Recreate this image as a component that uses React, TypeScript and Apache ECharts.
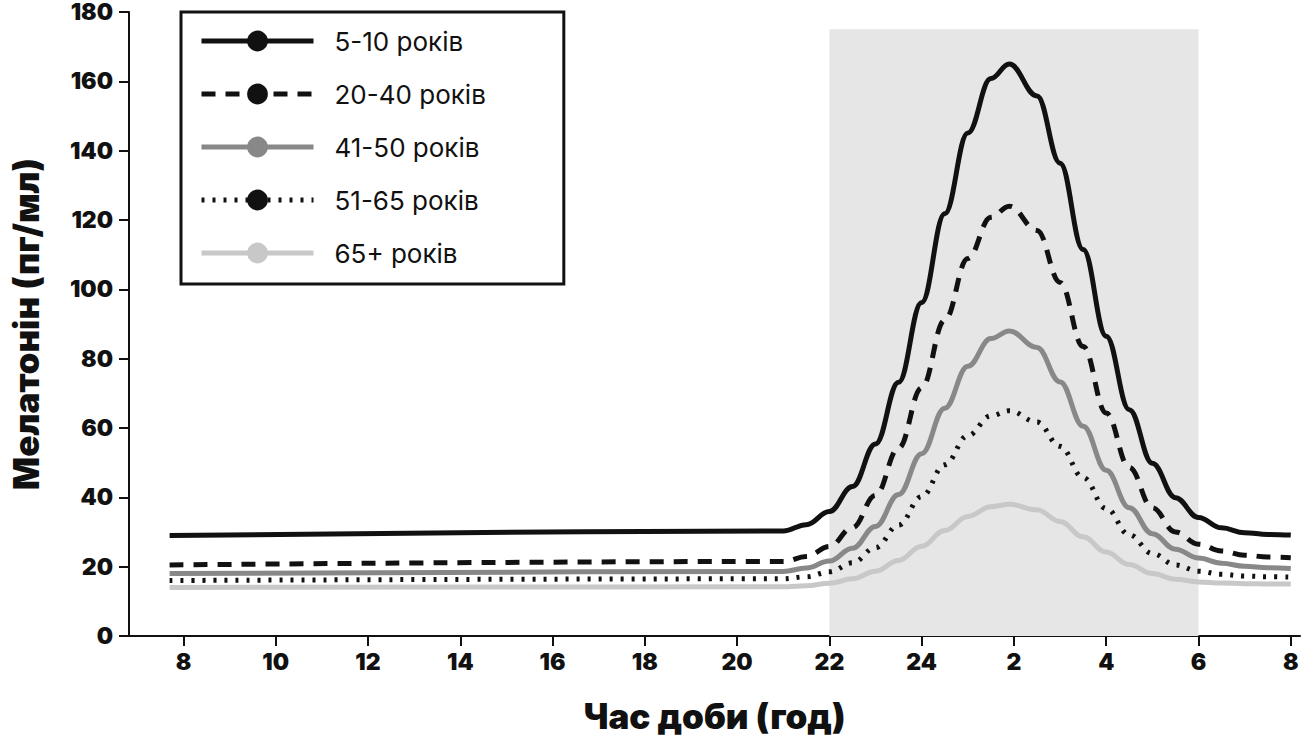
import { useEffect, useRef } from "react";
import * as echarts from "echarts";

const hours = [7.7, 21, 21.5, 22, 22.5, 23, 23.5, 24, 24.5, 25, 25.5, 25.9, 26.5, 27, 27.5, 28, 28.5, 29, 29.5, 30, 30.5, 31, 31.5, 32];
const age5to10 = [29, 30.3, 32.1, 35.9, 43.1, 55.4, 73.2, 96.2, 121.8, 145.1, 160.8, 165, 155.8, 136.4, 111.5, 86.5, 65.3, 49.8, 39.9, 34.2, 31.2, 29.8, 29.3, 29.1];
const age20to40 = [20.5, 21.5, 22.9, 25.8, 31.3, 40.6, 54.2, 71.6, 91.1, 108.9, 120.8, 124, 117, 102, 83.5, 64.3, 48.6, 37, 30, 26.5, 24.5, 23.3, 22.8, 22.6];
const age41to50 = [18, 18.6, 19.6, 21.6, 25.3, 31.6, 40.8, 52.6, 65.7, 77.8, 85.8, 88, 83.2, 73.3, 60.5, 47.8, 37, 29.5, 25, 22.5, 21, 20.1, 19.7, 19.5];
const age51to65 = [16, 16.5, 17.1, 18.5, 21.1, 25.5, 32, 40.2, 49.4, 57.8, 63.5, 65, 61.7, 54.7, 45.7, 36.8, 29.2, 23.8, 20.5, 18.7, 17.8, 17.3, 17.1, 17];
const age65plus = [14, 14.2, 14.5, 15.2, 16.5, 18.7, 21.8, 25.9, 30.4, 34.5, 37.3, 38, 36.4, 33, 28.6, 24.2, 20.6, 18, 16.4, 15.6, 15.3, 15.1, 15, 15];
const xTicks = [8, 10, 12, 14, 16, 18, 20, 22, 24, 26, 28, 30, 32];
const nightBand = [22, 30];

const font = "Inter";

export default function App() {
  const ref = useRef<HTMLDivElement>(null);

  useEffect(() => {
    if (!ref.current) return;
    const chart = echarts.init(ref.current, null, { renderer: "svg" });
    const mk = (name: string, vals: number[], color: string, type: any) => ({
      name,
      type: "line",
      smooth: 0.4,
      smoothMonotone: "x",
      symbol: "none",
      data: hours.map((h, i) => [h, vals[i]]),
      lineStyle: { color, width: 5, type },
      itemStyle: { color },
    });
    const s1: any = mk("5-10 років", age5to10, "#111", "solid");
    s1.markArea = {
      silent: true,
      itemStyle: { color: "#e6e6e6" },
      data: [[{ coord: [nightBand[0], 0] }, { coord: [nightBand[1], 175] }]],
    };
    chart.setOption({
      animation: false,
      grid: { left: 122, right: 3, top: 12, bottom: 103 },
      legend: {
        orient: "vertical",
        left: 181,
        top: 12,
        padding: [16, 78, 18, 18],
        itemGap: 27,
        itemWidth: 112,
        itemHeight: 26,
        borderColor: "#111",
        borderWidth: 3,
        backgroundColor: "#fff",
        lineStyle: { width: 5 },
        textStyle: { fontFamily: font, fontSize: 26, color: "#111", padding: [0, 0, 0, 16] },
        data: ["5-10 років", "20-40 років", "41-50 років", "51-65 років", "65+ років"],
      },
      xAxis: {
        type: "value",
        min: 6.82,
        max: 32.2,
        splitLine: { show: false },
        axisLine: { lineStyle: { color: "#111", width: 2 } },
        axisTick: { customValues: xTicks, length: 10, lineStyle: { color: "#111", width: 2 } },
        axisLabel: {
          customValues: xTicks,
          formatter: (v: number) => String(v > 24 ? v - 24 : v),
          fontFamily: font, fontWeight: 900, fontSize: 23, color: "#111", margin: 14,
        },
        name: "Час доби (год)",
        nameLocation: "middle",
        nameGap: 62,
        nameTextStyle: { fontFamily: font, fontWeight: 900, fontSize: 35, color: "#111" },
      },
      yAxis: {
        type: "value",
        min: 0,
        max: 180,
        interval: 20,
        splitLine: { show: false },
        axisLine: { show: true, lineStyle: { color: "#111", width: 2 } },
        axisTick: { show: true, length: 10, lineStyle: { color: "#111", width: 2 } },
        axisLabel: { fontFamily: font, fontWeight: 900, fontSize: 23, color: "#111", margin: 16 },
        name: "Мелатонін (пг/мл)",
        nameLocation: "middle",
        nameGap: 86,
        nameTextStyle: { fontFamily: font, fontWeight: 900, fontSize: 35, color: "#111" },
      },
      series: [
        s1,
        mk("20-40 років", age20to40, "#111", [14, 10]),
        mk("41-50 років", age41to50, "#888", "solid"),
        mk("51-65 років", age51to65, "#111", [3, 8]),
        mk("65+ років", age65plus, "#c8c8c8", "solid"),
      ],
    });
    return () => chart.dispose();
  }, []);

  return <div ref={ref} style={{ position: "fixed", left: 0, top: 0, width: 1303, height: 739, background: "#fff" }} />;
}
